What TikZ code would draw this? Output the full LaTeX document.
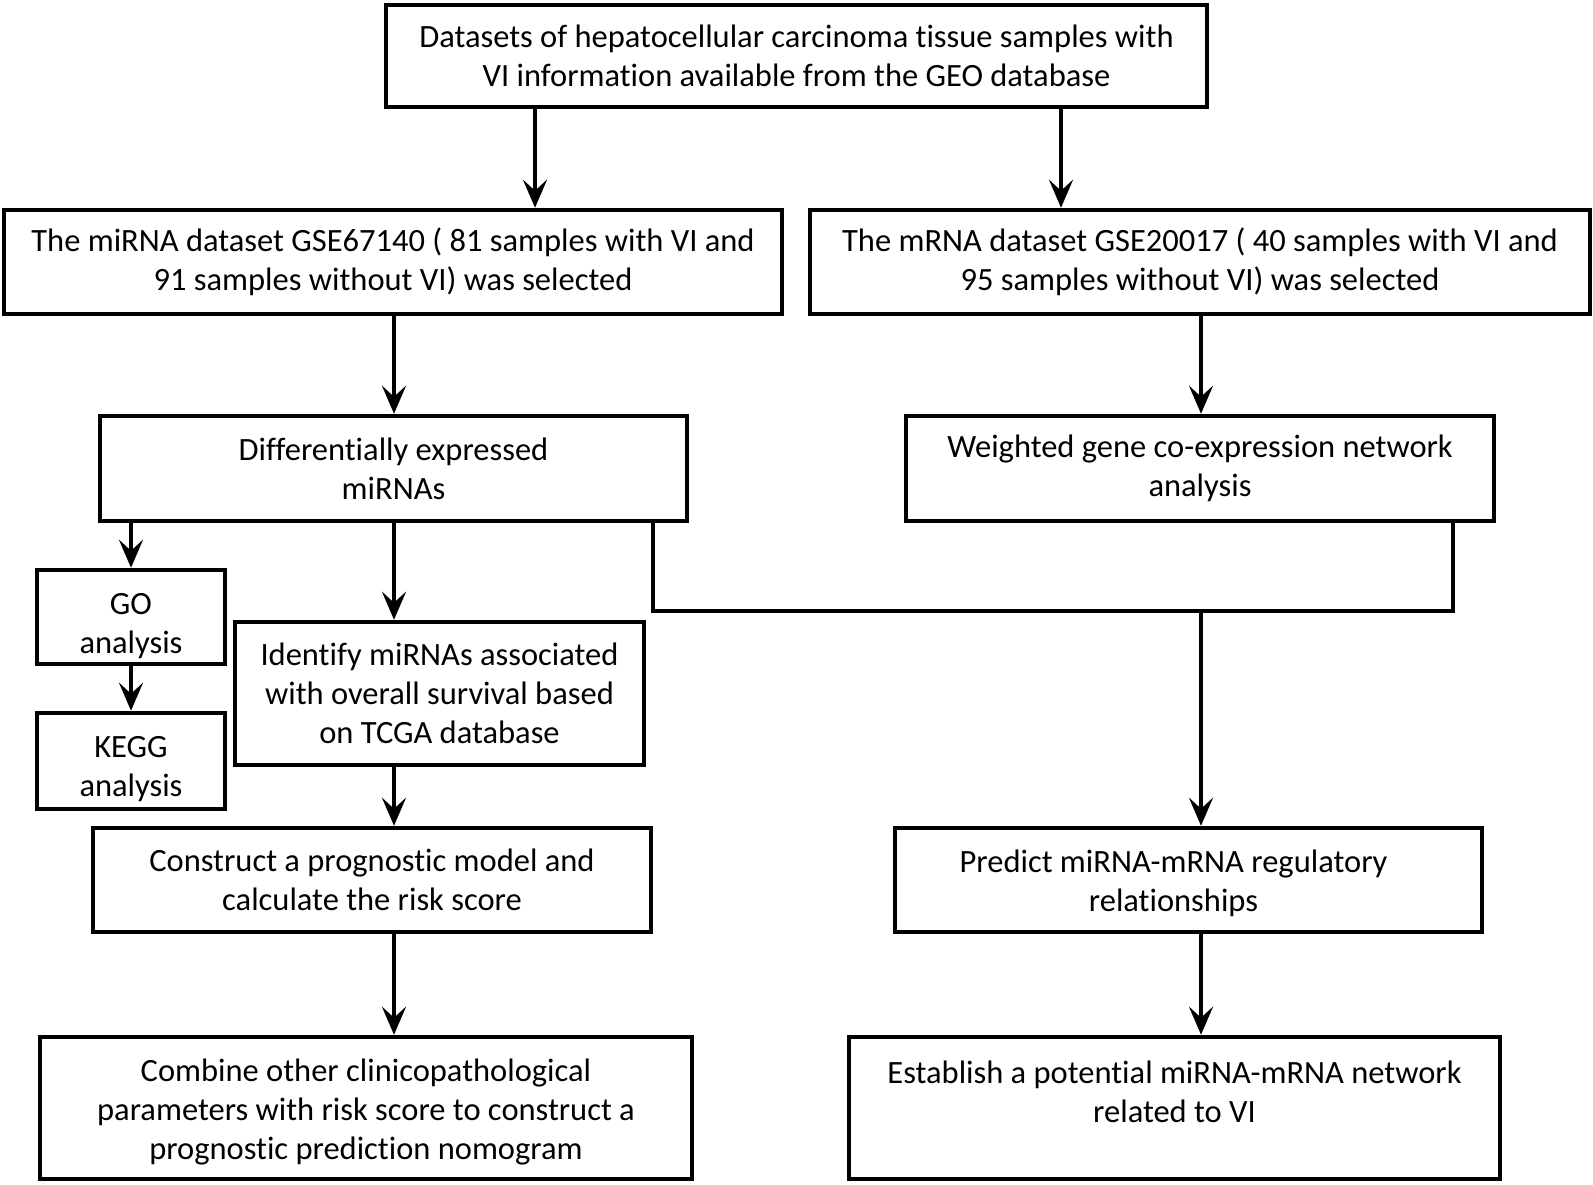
\documentclass[tikz,border=0pt]{standalone}
\usepackage{fontspec}
\setmainfont{Carlito}[Ligatures=NoCommon]
\usetikzlibrary{arrows.meta,calc}
\begin{document}
\begin{tikzpicture}[x=1pt,y=-1pt,
  box/.style={draw,line width=4.5pt,inner sep=0pt,align=center,font=\fontsize{32.5}{39.2}\selectfont},
  txt/.style={inner sep=0pt,align=center,font=\fontsize{32.5}{39.2}\selectfont},
  arr/.style={line width=4pt,-{Stealth[length=28pt,width=24pt,inset=11pt]}},
  ln/.style={line width=4pt}]
\useasboundingbox (0,0) rectangle (1593,1184);
\node[box,minimum width=821,minimum height=102] (top) at (796.5,56) {Datasets of hepatocellular carcinoma tissue samples with\\VI information available from the GEO database};
\node[box,minimum width=778,minimum height=104] (mi) at (393,262) {The miRNA dataset GSE67140 ( 81 samples with VI and\\91 samples without VI) was selected};
\node[box,minimum width=780,minimum height=104] (m) at (1200,262) {The mRNA dataset GSE20017 ( 40 samples with VI and\\95 samples without VI) was selected};
\node[box,minimum width=587,minimum height=105] (de) at (393.5,468.5) {Differentially expressed\\miRNAs};
\node[box,minimum width=588,minimum height=105] (wg) at (1200,468.5) {Weighted gene co-expression network\\analysis};
\node[box,minimum width=188,minimum height=94] (go) at (131,617) {};
\node[txt] (gotext) at ($(go.center)+(0,9)$) {GO\\analysis};
\node[box,minimum width=188,minimum height=96] (kegg) at (131,761) {};
\node[txt] (keggtext) at ($(kegg.center)+(0,8)$) {KEGG\\analysis};
\node[box,minimum width=409,minimum height=143] (id) at (439.5,693.5) {Identify miRNAs associated\\with overall survival based\\on TCGA database};
\node[box,minimum width=558,minimum height=104] (con) at (372,880) {Construct a prognostic model and\\calculate the risk score};
\node[box,minimum width=587,minimum height=104] (pre) at (1188.5,880) {};
\node[txt] (pretext) at ($(pre.center)+(-15,3)$) {Predict miRNA-mRNA regulatory\\relationships};
\node[box,minimum width=652,minimum height=142] (com) at (366,1108) {};
\node[txt] (comtext) at ($(com.center)+(0,4)$) {Combine other clinicopathological\\parameters with risk score to construct a\\prognostic prediction nomogram};
\node[box,minimum width=651,minimum height=142] (est) at (1174.5,1108) {};
\node[txt] (esttext) at ($(est.center)+(0,-16)$) {Establish a potential miRNA-mRNA network\\related to VI};
\coordinate (xa) at (535,0);
\coordinate (xb) at (1061,0);
\coordinate (xc) at (394,0);
\coordinate (xd) at (1201,0);
\coordinate (xe) at (653,0);
\coordinate (xf) at (1453,0);
\coordinate (yj) at (0,611);
\draw[arr] (top.south -| xa) -- (mi.north -| xa);
\draw[arr] (top.south -| xb) -- (m.north -| xb);
\draw[arr] (mi.south -| xc) -- (de.north -| xc);
\draw[arr] (m.south -| xd) -- (wg.north -| xd);
\draw[arr] (de.south -| go) -- (go.north);
\draw[arr] (go.south) -- (kegg.north);
\draw[arr] (de.south -| xc) -- (id.north -| xc);
\draw[arr] (id.south -| xc) -- (con.north -| xc);
\draw[arr] (con.south -| xc) -- (com.north -| xc);
\draw[ln,line join=miter] (de.south -| xe) -- (xe |- yj) -- (xf |- yj) -- (wg.south -| xf);
\draw[arr] (xd |- yj) -- (pre.north -| xd);
\draw[arr] (pre.south -| xd) -- (est.north -| xd);
\end{tikzpicture}
\end{document}
